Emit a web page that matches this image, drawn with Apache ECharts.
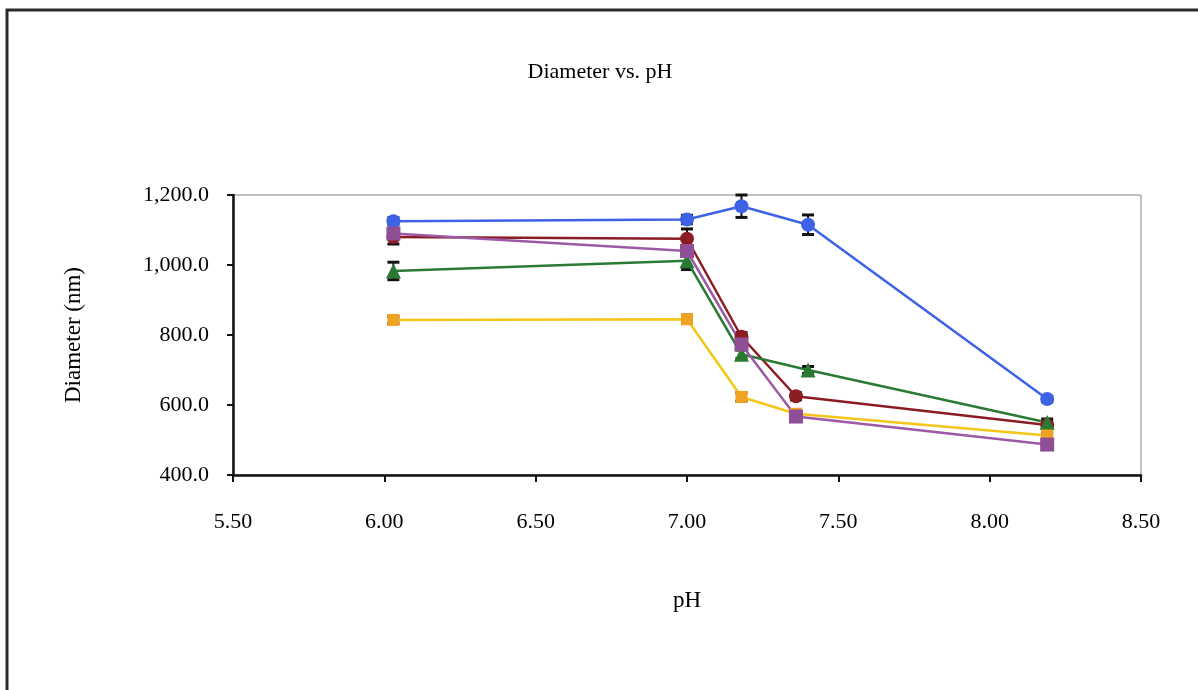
<!DOCTYPE html>
<html>
<head>
<meta charset="utf-8">
<script src="https://cdn.jsdelivr.net/npm/echarts@6/dist/echarts.min.js"></script>
<style>html,body{margin:0;padding:0;background:#fff}#c{width:1198px;height:690px}</style>
</head>
<body>
<div id="c"></div>
<script>
// Data
const phBlue   = [6.03, 7.00, 7.18, 7.40, 8.19];
const diaBlue  = [1125, 1130, 1168, 1115, 617];
const errBlue  = [10, 12, 32, 28, 8];

const phMaroon  = [6.03, 7.00, 7.18, 7.36, 8.19];
const diaMaroon = [1080, 1075, 795, 625, 543];
const errMaroon = [20, 28, 12, 10, 10];

const phPurple  = [6.03, 7.00, 7.18, 7.36, 8.19];
const diaPurple = [1090, 1040, 773, 567, 487];
const errPurple = [10, 15, 12, 10, 10];

const phGreen  = [6.03, 7.00, 7.18, 7.40, 8.19];
const diaGreen = [983, 1012, 745, 700, 550];
const errGreen = [25, 25, 12, 10, 10];

const phYellow  = [6.03, 7.00, 7.18, 7.36, 8.19];
const diaYellow = [843, 845, 623, 575, 513];
const errYellow = [10, 12, 12, 8, 8];

const xTicks = [5.5, 6.0, 6.5, 7.0, 7.5, 8.0, 8.5];
const yTicks = [400, 600, 800, 1000, 1200];

const serif = '"Liberation Serif", "DejaVu Serif", serif';

function pairs(xs, ys) { return xs.map((x, i) => [x, ys[i]]); }
function triples(xs, ys, es) { return xs.map((x, i) => [x, ys[i], es[i]]); }

function fmtY(v) {
  const s = v.toFixed(1);
  const parts = s.split('.');
  parts[0] = parts[0].replace(/\B(?=(\d{3})+(?!\d))/g, ',');
  return parts.join('.');
}

const defs = [
  { name: 'Blue',   xs: phBlue,   ys: diaBlue,   es: errBlue,   color: '#3d62e6', symbol: 'circle',   size: 14 },
  { name: 'Maroon', xs: phMaroon, ys: diaMaroon, es: errMaroon, color: '#8a1c22', symbol: 'circle',   size: 14 },
  { name: 'Green',  xs: phGreen,  ys: diaGreen,  es: errGreen,  color: '#2b7a34', symbol: 'triangle', size: 15 },
  { name: 'Yellow', xs: phYellow, ys: diaYellow, es: errYellow, color: '#f5c518', symbol: 'rect',     size: 12, markerColor: '#f0a322' },
  { name: 'Purple', xs: phPurple, ys: diaPurple, es: errPurple, color: '#9c5aa6', symbol: 'rect',     size: 14, markerColor: '#8e4f96' }
];

const series = [];
defs.forEach(d => {
  series.push({
    name: d.name + ' err',
    type: 'custom',
    data: triples(d.xs, d.ys, d.es),
    z: 2,
    renderItem: function (params, api) {
      const x = api.value(0), y = api.value(1), e = api.value(2);
      const hi = api.coord([x, y + e]);
      const lo = api.coord([x, y - e]);
      const w = 6;
      const st = { stroke: '#111', lineWidth: 2 };
      return {
        type: 'group',
        children: [
          { type: 'line', shape: { x1: hi[0], y1: hi[1], x2: lo[0], y2: lo[1] }, style: st },
          { type: 'line', shape: { x1: hi[0] - w, y1: hi[1], x2: hi[0] + w, y2: hi[1] }, style: Object.assign({}, st, { lineWidth: 3 }) },
          { type: 'line', shape: { x1: lo[0] - w, y1: lo[1], x2: lo[0] + w, y2: lo[1] }, style: Object.assign({}, st, { lineWidth: 3 }) }
        ]
      };
    }
  });
  series.push({
    name: d.name,
    type: 'line',
    data: pairs(d.xs, d.ys),
    symbol: d.symbol,
    symbolSize: d.size,
    lineStyle: { color: d.color, width: 2.5 },
    itemStyle: { color: d.markerColor || d.color },
    z: 3
  });
});

const chart = echarts.init(document.getElementById('c'));
chart.setOption({
  backgroundColor: '#ffffff',
  animation: false,
  title: {
    text: 'Diameter vs. pH',
    left: 595,
    textAlign: 'center',
    top: 56,
    textStyle: { fontFamily: serif, fontSize: 22, fontWeight: 'normal', color: '#000' }
  },
  graphic: [{
    type: 'rect',
    shape: { x: 7, y: 10, width: 1200, height: 690 },
    style: { fill: 'none', stroke: '#2a2a2a', lineWidth: 3 },
    silent: true
  }],
  grid: {
    left: 233, right: 57, top: 195, bottom: 215,
    show: true, borderColor: '#8a8090', borderWidth: 1, backgroundColor: 'transparent'
  },
  xAxis: {
    type: 'value',
    min: xTicks[0], max: xTicks[xTicks.length - 1], interval: 0.5,
    name: 'pH', nameLocation: 'middle', nameGap: 114,
    nameTextStyle: { fontFamily: serif, fontSize: 23, color: '#000' },
    axisLine: { show: true, onZero: false, lineStyle: { color: '#111', width: 2.5 } },
    axisTick: { show: true, length: 7, lineStyle: { color: '#111', width: 2 } },
    axisLabel: { fontFamily: serif, fontSize: 22, color: '#000', margin: 36, formatter: v => v.toFixed(2) },
    splitLine: { show: false }
  },
  yAxis: {
    type: 'value',
    min: yTicks[0], max: yTicks[yTicks.length - 1], interval: 200,
    name: 'Diameter (nm)', nameLocation: 'middle', nameGap: 148,
    nameTextStyle: { fontFamily: serif, fontSize: 23, color: '#000' },
    axisLine: { show: true, lineStyle: { color: '#111', width: 2.5 } },
    axisTick: { show: true, length: 6, lineStyle: { color: '#111', width: 2 } },
    axisLabel: { fontFamily: serif, fontSize: 22, color: '#000', margin: 24, formatter: fmtY },
    splitLine: { show: false }
  },
  series: series
});
</script>
</body>
</html>
